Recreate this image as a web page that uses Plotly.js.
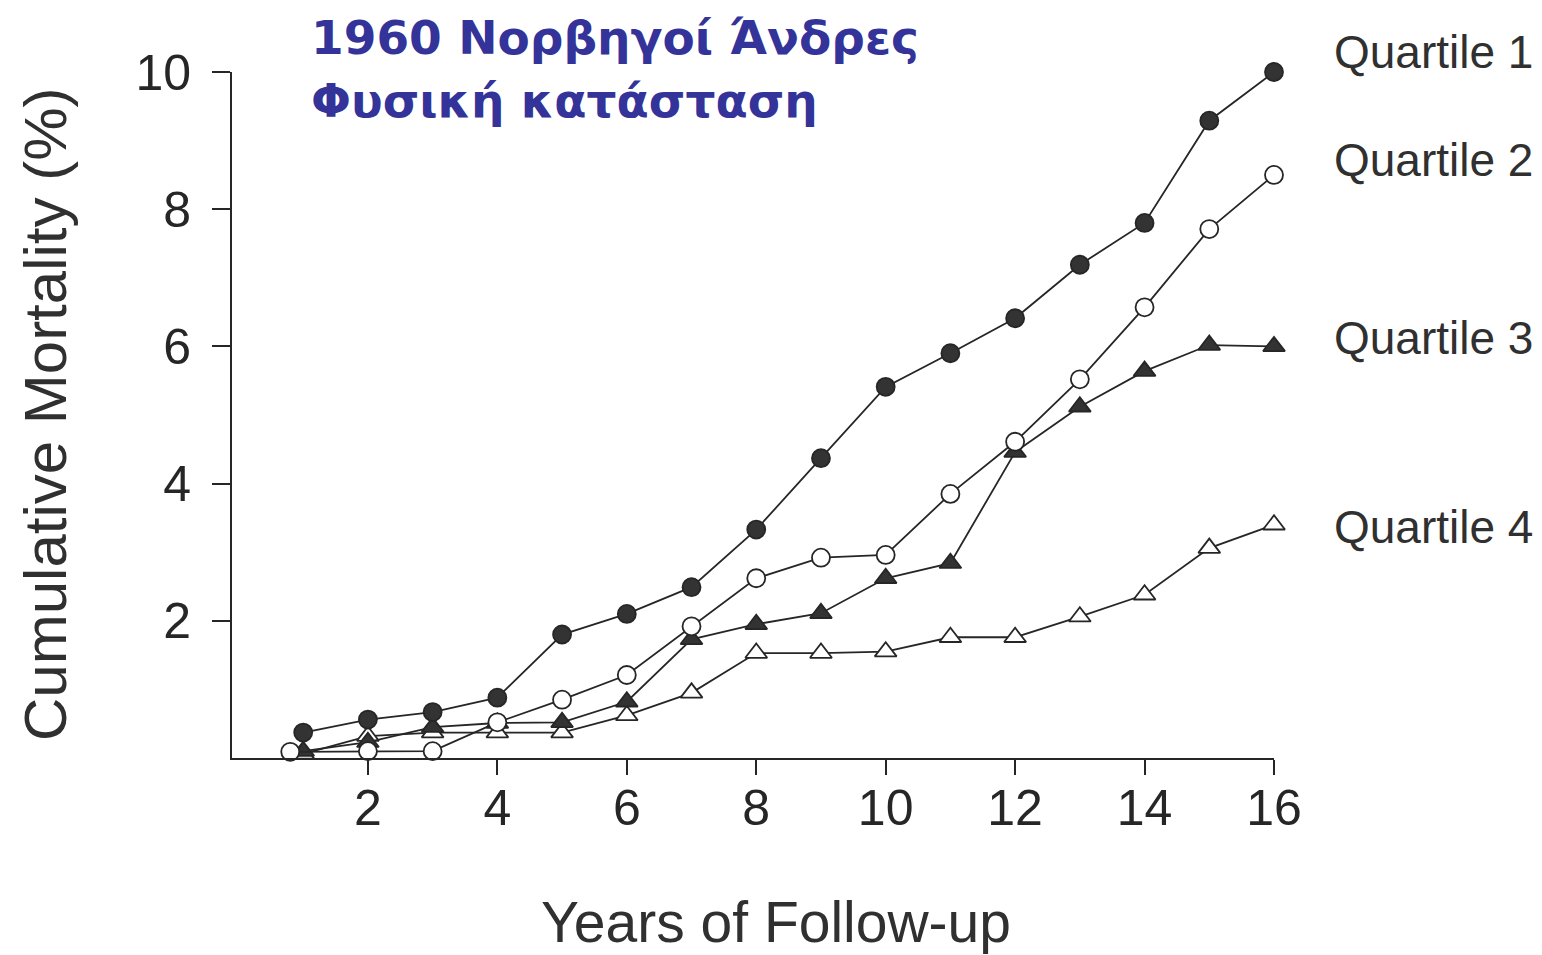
<!DOCTYPE html>
<html>
<head>
<meta charset="utf-8">
<script src="https://cdn.plot.ly/plotly-3.0.1.min.js"></script>
<style>html,body{margin:0;padding:0;background:#fff;}#chart{width:1542px;height:955px;}</style>
</head>
<body>
<div id="chart"></div>
<script>
// ---- data ----
const years = [1, 2, 3, 4, 5, 6, 7, 8, 9, 10, 11, 12, 13, 14, 15, 16];
const q2Years = [0.8, 2, 3, 4, 5, 6, 7, 8, 9, 10, 11, 12, 13, 14, 15, 16];
const quartile1 = [0.37, 0.56, 0.67, 0.88, 1.8, 2.1, 2.49, 3.33, 4.37, 5.41, 5.9, 6.41, 7.19, 7.8, 9.29, 10.0];
const quartile2 = [0.09, 0.1, 0.1, 0.52, 0.85, 1.21, 1.92, 2.62, 2.92, 2.96, 3.85, 4.61, 5.52, 6.57, 7.71, 8.5];
const quartile3 = [0.1, 0.23, 0.45, 0.51, 0.52, 0.82, 1.73, 1.95, 2.11, 2.62, 2.84, 4.46, 5.12, 5.64, 6.02, 6.0];
const quartile4 = [0.06, 0.32, 0.37, 0.37, 0.37, 0.62, 0.95, 1.53, 1.53, 1.55, 1.76, 1.76, 2.06, 2.38, 3.06, 3.4];
const seriesNames = ['Quartile 1', 'Quartile 2', 'Quartile 3', 'Quartile 4'];
const xTicks = [2, 4, 6, 8, 10, 12, 14, 16];
const yTicks = [2, 4, 6, 8, 10];
const titleLines = ['1960 Νορβηγοί Άνδρες', 'Φυσική κατάσταση'];
const xTitle = 'Years of Follow-up';
const yTitle = 'Cumulative Mortality (%)';

const ink = '#262626';
const lineStyle = {color: ink, width: 1.8};

function series(x, y, name, symbol, fill, size) {
  return {
    type: 'scatter', mode: 'lines+markers', x: x, y: y, name: name,
    line: lineStyle, cliponaxis: false,
    marker: {symbol: symbol, size: size, color: fill, line: {color: ink, width: 1.8}}
  };
}

const traces = [
  series(years, quartile4, seriesNames[3], 'triangle-up', '#ffffff', 19),
  series(years, quartile3, seriesNames[2], 'triangle-up', '#333333', 19),
  series(q2Years, quartile2, seriesNames[1], 'circle', '#ffffff', 18),
  series(years, quartile1, seriesNames[0], 'circle', '#333333', 18)
];

// plot area: left 232, top 72, height 686 px
const H = 686;
const py = p => (758 - p) / H;   // pixel row -> paper y
const labelRows = [52, 160, 338, 527];
const annotations = seriesNames.map((n, i) => ({
  text: n, xref: 'paper', yref: 'paper', x: 1.0557, y: py(labelRows[i]),
  xanchor: 'left', yanchor: 'middle', showarrow: false,
  font: {family: 'Liberation Sans, Arial, sans-serif', size: 46, color: '#303030'}
}));
annotations.push({
  text: xTitle, xref: 'paper', yref: 'paper', x: 0.522, y: py(922),
  xanchor: 'center', yanchor: 'middle', showarrow: false,
  font: {family: 'Liberation Sans, Arial, sans-serif', size: 57, color: '#303030'}
});
annotations.push({
  text: yTitle, xref: 'paper', yref: 'paper', x: (45 - 232) / 1042, y: 0.5, textangle: -90,
  xanchor: 'center', yanchor: 'middle', showarrow: false,
  font: {family: 'Liberation Sans, Arial, sans-serif', size: 60, color: '#303030'}
});
const titleRows = [37, 100];
titleLines.forEach((t, i) => annotations.push({
  text: '<b>' + t + '</b>', xref: 'paper', yref: 'paper', x: (309 - 232) / 1042, y: py(titleRows[i]),
  xanchor: 'left', yanchor: 'middle', showarrow: false,
  font: {family: 'DejaVu Sans, Verdana, sans-serif', size: 47, color: '#333399'}
}));

const axisFont = {family: 'Liberation Sans, Arial, sans-serif', size: 50, color: '#262626'};

const layout = {
  width: 1542, height: 955,
  margin: {l: 232, r: 268, t: 72, b: 197},
  paper_bgcolor: '#ffffff', plot_bgcolor: '#ffffff',
  showlegend: false,
  xaxis: {
    range: [-0.1, 16], tickvals: xTicks, ticktext: xTicks.map(String),
    showline: true, linecolor: ink, linewidth: 2,
    ticks: 'outside', ticklen: 15, tickwidth: 2, tickcolor: ink,
    showgrid: false, zeroline: false, tickfont: axisFont, ticklabelstandoff: -10,
    fixedrange: true
  },
  yaxis: {
    range: [0, 10], tickvals: yTicks, ticktext: yTicks.map(String),
    showline: true, linecolor: ink, linewidth: 2,
    ticks: 'outside', ticklen: 18, tickwidth: 2, tickcolor: ink,
    showgrid: false, zeroline: false, tickfont: axisFont, ticklabelstandoff: 11,
    fixedrange: true
  },
  annotations: annotations
};

Plotly.newPlot('chart', traces, layout, {displayModeBar: false, staticPlot: true});
</script>
</body>
</html>
